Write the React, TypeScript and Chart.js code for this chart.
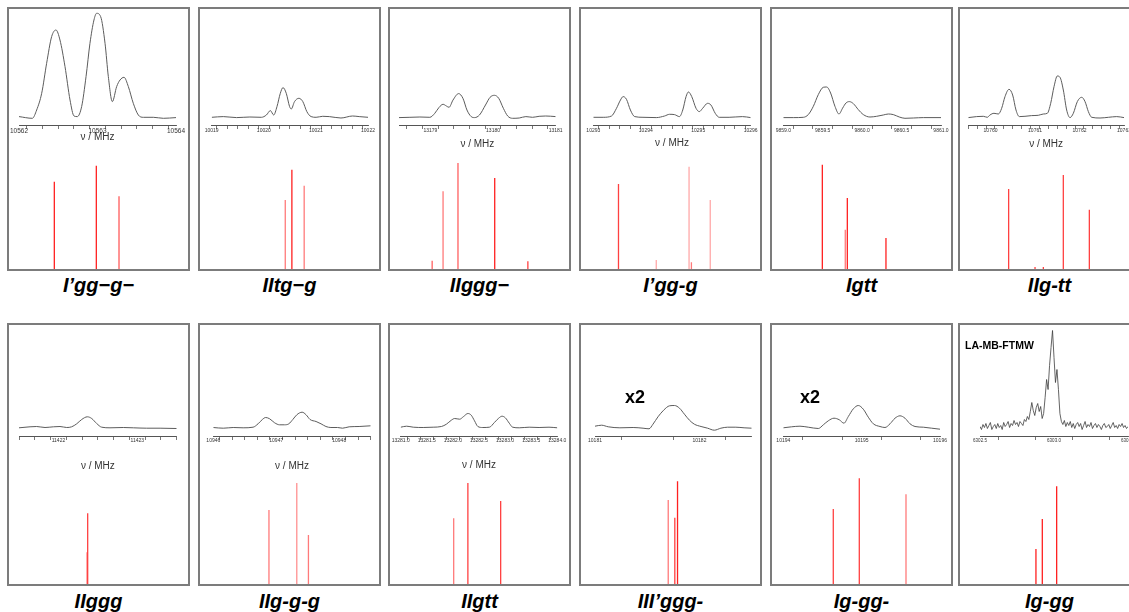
import React, { useEffect, useRef } from "react";
import { Chart, registerables } from "chart.js";

Chart.register(...registerables);

// ---------------- DATA (frequencies in MHz, intensities in arbitrary units) ----------------
const p1Freq = [10562.0, 10562.17, 10562.225, 10562.289, 10562.352, 10562.416, 10562.471, 10562.522, 10562.586, 10562.65, 10562.701, 10562.743, 10562.798, 10562.854, 10562.904, 10562.955, 10562.989, 10563.04, 10563.096, 10563.138, 10563.189, 10563.244, 10563.287, 10563.338, 10563.393, 10563.456, 10563.52, 10563.584, 10563.711, 10563.839, 10564.0];
const p1Int = [0.7, -1, 7.3, 24, 54, 80.7, 87.3, 77.3, 50.7, 17.3, 1.3, 0.7, 10.7, 40.7, 74, 97.3, 104, 100.7, 74, 40.7, 15.7, 30.7, 37.3, 40, 30.7, 14, 2.3, 0, 0, -1, -0.3];
const p1StickFreq = [10562.45, 10562.985, 10563.274];
const p1StickInt = [87.3, 103.3, 72.7];

const p2Freq = [10019.0, 10019.223, 10019.477, 10019.732, 10019.954, 10020.05, 10020.126, 10020.19, 10020.253, 10020.317, 10020.368, 10020.431, 10020.495, 10020.527, 10020.59, 10020.673, 10020.749, 10020.826, 10020.908, 10021.004, 10021.131, 10021.258, 10021.481, 10021.704, 10021.831, 10022.0];
const p2Int = [0, 0.7, -0.3, 0.3, 0, 2.3, 6.7, 2.3, 10.7, 24, 29.7, 24, 10.7, 8.3, 15.7, 19, 15.7, 5.7, 0.7, 0, 1, 0.7, -0.7, 1.3, 0.7, 0];
const p2StickFreq = [10020.412, 10020.539, 10020.775];
const p2StickInt = [69, 99.3, 83.3];

const p3Freq = [13178.5, 13178.674, 13178.833, 13178.992, 13179.071, 13179.14, 13179.203, 13179.256, 13179.298, 13179.362, 13179.451, 13179.52, 13179.584, 13179.652, 13179.705, 13179.784, 13179.88, 13179.953, 13180.022, 13180.091, 13180.165, 13180.234, 13180.313, 13180.419, 13180.524, 13180.63, 13180.736, 13180.841, 13181.0];
const p3Int = [-0.3, 0, 0.3, 0, 4, 10, 13, 11.3, 10, 17.3, 23.7, 19, 7.3, 0.7, -0.3, 2.3, 12.3, 20, 22, 19, 9, 1.3, -1, -0.7, 0.7, 0, 1, 1.3, 0.7];
const p3StickFreq = [13179.029, 13179.203, 13179.441, 13180.027, 13180.556];
const p3StickInt = [8.3, 77.7, 106, 91, 7.7];

const p4Freq = [10293.0, 10293.189, 10293.347, 10293.442, 10293.518, 10293.568, 10293.632, 10293.707, 10293.789, 10293.947, 10294.2, 10294.358, 10294.453, 10294.547, 10294.642, 10294.705, 10294.768, 10294.813, 10294.876, 10294.958, 10295.021, 10295.084, 10295.179, 10295.242, 10295.324, 10295.4, 10295.589, 10295.842, 10296.0];
const p4Int = [0, 0, 1.3, 9, 17.3, 20.7, 18, 7.3, 0.7, 0, -0.3, 1.3, 3, 2.7, 0.7, 7.3, 20.7, 25.3, 20.7, 9, 5.7, 9, 14, 12.3, 4, 0, 0, 0.7, -0.3];
const p4StickFreq = [10293.48, 10294.2, 10294.825, 10294.87, 10295.229];
const p4StickInt = [85, 9, 102.3, 6.7, 69];

const p5Freq = [9859.0, 9859.127, 9859.254, 9859.317, 9859.381, 9859.444, 9859.507, 9859.55, 9859.6, 9859.655, 9859.706, 9859.753, 9859.795, 9859.837, 9859.888, 9859.951, 9860.015, 9860.099, 9860.184, 9860.268, 9860.332, 9860.395, 9860.471, 9860.543, 9860.649, 9860.776, 9861.0];
const p5Int = [-0.3, -0.3, 0, 2.7, 11, 22.7, 30, 30.3, 24.3, 11, 3.3, 9.3, 14.3, 15.7, 13.7, 7.7, 2.7, 0.3, 1, 2.3, 3.3, 2.7, 0.3, -1, -0.7, -0.3, -0.3];
const p5StickFreq = [9859.495, 9859.786, 9859.812, 9860.302];
const p5StickInt = [104.3, 39.3, 71, 31];

const p6Freq = [10759.5, 10759.687, 10759.837, 10759.927, 10759.987, 10760.077, 10760.175, 10760.25, 10760.325, 10760.415, 10760.497, 10760.572, 10760.647, 10760.774, 10760.924, 10761.074, 10761.187, 10761.277, 10761.352, 10761.427, 10761.501, 10761.561, 10761.636, 10761.711, 10761.786, 10761.861, 10761.951, 10762.049, 10762.124, 10762.199, 10762.274, 10762.461, 10762.649, 10762.836, 10763.0];
const p6Int = [-0.3, 0.7, 1, 0, 2.3, 4, 3.3, 9, 20.7, 28, 22.3, 7.3, 0.7, 1, 1.7, 2, 3.3, 4, 14, 30.7, 41.3, 40, 27.3, 7.3, -0.3, 4, 15.7, 20, 15.7, 5.7, 0, -0.7, 0, 0.7, -0.3];
const p6StickFreq = [10760.407, 10761.0, 10761.187, 10761.636, 10762.221];
const p6StickInt = [80, 2, 2, 94, 59.3];

const p7Freq = [11421.5, 11421.64, 11421.724, 11421.83, 11421.936, 11422.02, 11422.105, 11422.168, 11422.232, 11422.295, 11422.367, 11422.422, 11422.485, 11422.549, 11422.654, 11422.823, 11422.95, 11423.119, 11423.289, 11423.5];
const p7Int = [-0.3, 0.7, 1, 0, 0.7, 1, 0, 0.7, 3.7, 8, 10.7, 9, 4, 0.3, -0.3, 0, -0.3, -0.7, -0.7, -1];
const p7StickFreq = [11422.363, 11422.371];
const p7StickInt = [31.7, 70.7];

const p8Freq = [10946.0, 10946.158, 10946.316, 10946.474, 10946.632, 10946.711, 10946.779, 10946.832, 10946.895, 10946.974, 10947.053, 10947.132, 10947.2, 10947.263, 10947.326, 10947.411, 10947.474, 10947.537, 10947.632, 10947.711, 10947.789, 10947.868, 10947.974, 10948.053, 10948.158, 10948.316, 10948.5];
const p8Int = [0, -0.7, 0, -0.3, 0.3, 3.7, 8, 10, 8.7, 4.7, 2.7, 2.7, 3.7, 8, 12.7, 15.3, 12.7, 8, 6, 3.7, 1, 0, 0, -0.7, 0.7, 1, 1.7];
const p8StickFreq = [10946.884, 10947.326, 10947.511];
const p8StickInt = [74, 101, 49];

const p9Freq = [13281.0, 13281.114, 13281.241, 13281.431, 13281.622, 13281.78, 13281.875, 13281.97, 13282.034, 13282.129, 13282.205, 13282.287, 13282.351, 13282.414, 13282.478, 13282.573, 13282.7, 13282.795, 13282.877, 13282.941, 13283.004, 13283.08, 13283.144, 13283.271, 13283.461, 13283.651, 13283.841, 13284.0];
const p9Int = [0.3, 1.3, 0.3, 0, 0.3, 1, 3.3, 7.3, 9, 8.3, 11, 14, 12.3, 6.7, 1, 0, 0.3, 5, 9.3, 11.3, 9.7, 4.3, 0.3, -0.3, 0.3, 0, 0.3, -0.3];
const p9StickFreq = [13282.015, 13282.287, 13282.915];
const p9StickInt = [65.7, 101, 83];

const p10Freq = [10181.0, 10181.063, 10181.127, 10181.238, 10181.365, 10181.46, 10181.517, 10181.555, 10181.603, 10181.657, 10181.714, 10181.761, 10181.809, 10181.856, 10181.904, 10181.951, 10182.015, 10182.078, 10182.142, 10182.205, 10182.269, 10182.348, 10182.427, 10182.5];
const p10Int = [1.3, 2.3, 0.7, -0.3, 0, -0.7, -1.3, 3.3, 10.7, 17.3, 21.7, 22, 19.3, 13.3, 7.3, 3.3, 1, -0.7, -2.7, -0.7, 0.3, 0.3, -0.3, -0.7];
const p10StickFreq = [10181.701, 10181.764, 10181.79];
const p10StickInt = [84, 66.3, 102.7];

const p11Freq = [10194.0, 10194.106, 10194.213, 10194.319, 10194.447, 10194.511, 10194.574, 10194.647, 10194.715, 10194.774, 10194.83, 10194.894, 10194.957, 10195.021, 10195.085, 10195.149, 10195.234, 10195.298, 10195.362, 10195.426, 10195.489, 10195.553, 10195.617, 10195.681, 10195.787, 10195.894, 10196.0];
const p11Int = [-0.3, 0.7, 1.3, 0.3, -1, 2.7, 6.7, 9.3, 7.7, 4.3, 11, 18.7, 22, 18.3, 10.3, 3.7, 1, 0, 3.7, 9.3, 11.7, 9.3, 3.7, 1, 0.3, -0.7, -1.7];
const p11StickFreq = [10194.638, 10194.97, 10195.566];
const p11StickInt = [75, 105.7, 89.7];

// LA-MB-FTMW trace: sampled every 0.01 MHz from 6302.50 MHz
const p12FreqStart = 6302.5;
const p12FreqStep = 0.01;
const p12Int = [
  1, -2, 3, 0, 4, -1, 2, 5, -2, 1, 3, -1, 4, 0, 2, -2, 5, 1, 3, 6, 0, 4, 2, 7, 3, 5, 1, 6, 4, 2, 8,
  6, 11, 8, 16, 25, 17, 12, 20, 24, 16, 21, 9, 14, 30, 48, 38, 62, 80, 97, 70, 45, 58, 38, 14, 6,
  3, 7, 1, 5, 2, 6, 0, 4, -1, 3, 5, 1, 4, -2, 2, 6, 0, 3, 1, 5, -1, 2, 4, 0, 3, 1, -2, 2, 4, 0, 1, 3, -1, 2, 5, 0, 2, -1, 3, 1, 4, 0, 2, -1, 1,
];
const p12Freq = p12Int.map((_, i) => p12FreqStart + i * p12FreqStep);
const p12StickFreq = [6302.878, 6302.921, 6303.018];
const p12StickInt = [35, 65, 97.7];

// ---------------- STYLES ----------------
const RED = "#ff2020";
const RED2 = "#ff4040";
const PALE = "#ff7a7a";
const PINK = "#ffa8a8";

const p1StickColors = [RED, RED, "#ff5a5a"];
const p2StickColors = [PALE, RED, PALE];
const p3StickColors = ["#ff6060", PALE, "#ff6060", RED, RED2];
const p4StickColors = [RED2, PINK, PINK, PALE, PINK];
const p5StickColors = [RED, PALE, RED, RED];
const p6StickColors = [RED2, RED2, RED2, RED2, RED2];
const p7StickColors = [PALE, RED2];
const p8StickColors = [PALE, "#ff9090", PALE];
const p9StickColors = [PALE, RED2, RED2];
const p10StickColors = [PALE, RED2, RED];
const p11StickColors = [RED2, RED2, PALE];
const p12StickColors = [RED, RED, RED];

const FONT = '"Liberation Sans", Arial, Helvetica, sans-serif';
const BOX_W = 183;
const BORDER = 2;

type Row = { top: number; height: number; baseline: number; axisGap: number; captionTop: number };
const ROW1: Row = { top: 7, height: 264, baseline: 108.3, axisGap: 8.7, captionTop: 275 };
const ROW2: Row = { top: 323, height: 263, baseline: 102.5, axisGap: 8.5, captionTop: 591 };

type PanelCfg = {
  row: Row;
  left: number;
  caption: string;
  freq: number[];
  inten: number[];
  sFreq: number[];
  sInt: number[];
  sColors: string[];
  xMin: number;
  xMax: number;
  tickStart: number;
  minor: number;
  major: number;
  dec: number;
  padL: number;
  padR: number;
  labelSize: number;
  tickPad: number;
  title: boolean;
  titlePadTop: number;
  noisy?: boolean;
};

const panels: PanelCfg[] = [
  { row: ROW1, left: 7, caption: "I’gg−g−", freq: p1Freq, inten: p1Int, sFreq: p1StickFreq, sInt: p1StickInt, sColors: p1StickColors, xMin: 10562, xMax: 10564, tickStart: 10562, minor: 0.2, major: 1, dec: 0, padL: 10, padR: 12, labelSize: 6.5, tickPad: -2, title: true, titlePadTop: -1.5 },
  { row: ROW1, left: 198, caption: "IItg−g", freq: p2Freq, inten: p2Int, sFreq: p2StickFreq, sInt: p2StickInt, sColors: p2StickColors, xMin: 10019, xMax: 10022, tickStart: 10019, minor: 0.2, major: 1, dec: 0, padL: 11.7, padR: 11, labelSize: 5, tickPad: -1, title: false, titlePadTop: 0 },
  { row: ROW1, left: 388, caption: "IIggg−", freq: p3Freq, inten: p3Int, sFreq: p3StickFreq, sInt: p3StickInt, sColors: p3StickColors, xMin: 13178.5, xMax: 13181, tickStart: 13178.5, minor: 0.25, major: 1, dec: 0, padL: 9, padR: 13.3, labelSize: 5, tickPad: -1, title: true, titlePadTop: 5.5 },
  { row: ROW1, left: 579, caption: "I’gg-g", freq: p4Freq, inten: p4Int, sFreq: p4StickFreq, sInt: p4StickInt, sColors: p4StickColors, xMin: 10293, xMax: 10296, tickStart: 10293, minor: 0.2, major: 1, dec: 0, padL: 12.3, padR: 9.3, labelSize: 5, tickPad: -1, title: true, titlePadTop: 4.5 },
  { row: ROW1, left: 770, caption: "Igtt", freq: p5Freq, inten: p5Int, sFreq: p5StickFreq, sInt: p5StickInt, sColors: p5StickColors, xMin: 9859, xMax: 9861, tickStart: 9859, minor: 0.25, major: 0.5, dec: 1, padL: 11.3, padR: 10, labelSize: 5, tickPad: -1, title: false, titlePadTop: 0 },
  { row: ROW1, left: 958, caption: "IIg-tt", freq: p6Freq, inten: p6Int, sFreq: p6StickFreq, sInt: p6StickInt, sColors: p6StickColors, xMin: 10759.5, xMax: 10763, tickStart: 10759.6, minor: 0.2, major: 1, dec: 0, padL: 8.3, padR: 15, labelSize: 5, tickPad: -1, title: true, titlePadTop: 5.3 },
  { row: ROW2, left: 7, caption: "IIggg", freq: p7Freq, inten: p7Int, sFreq: p7StickFreq, sInt: p7StickInt, sColors: p7StickColors, xMin: 11421.5, xMax: 11423.5, tickStart: 11421.6, minor: 0.2, major: 1, dec: 0, padL: 10, padR: 11.3, labelSize: 5, tickPad: -1, title: true, titlePadTop: 17 },
  { row: ROW2, left: 198, caption: "IIg-g-g", freq: p8Freq, inten: p8Int, sFreq: p8StickFreq, sInt: p8StickInt, sColors: p8StickColors, xMin: 10946, xMax: 10948.5, tickStart: 10946, minor: 0.2, major: 1, dec: 0, padL: 13.3, padR: 8.3, labelSize: 5, tickPad: -1, title: true, titlePadTop: 17 },
  { row: ROW2, left: 388, caption: "IIgtt", freq: p9Freq, inten: p9Int, sFreq: p9StickFreq, sInt: p9StickInt, sColors: p9StickColors, xMin: 13281, xMax: 13284, tickStart: 13281, minor: 0.25, major: 0.5, dec: 1, padL: 10.7, padR: 11.7, labelSize: 5, tickPad: -1, title: true, titlePadTop: 16.5 },
  { row: ROW2, left: 579, caption: "III’ggg-", freq: p10Freq, inten: p10Int, sFreq: p10StickFreq, sInt: p10StickInt, sColors: p10StickColors, xMin: 10181, xMax: 10182.5, tickStart: 10181, minor: 0.5, major: 1, dec: 0, padL: 14, padR: 8.3, labelSize: 5, tickPad: -1, title: false, titlePadTop: 0 },
  { row: ROW2, left: 770, caption: "Ig-gg-", freq: p11Freq, inten: p11Int, sFreq: p11StickFreq, sInt: p11StickInt, sColors: p11StickColors, xMin: 10194, xMax: 10196, tickStart: 10194, minor: 0.5, major: 1, dec: 0, padL: 11.3, padR: 11, labelSize: 5, tickPad: -1, title: false, titlePadTop: 0 },
  { row: ROW2, left: 958, caption: "Ig-gg", freq: p12Freq, inten: p12Int, sFreq: p12StickFreq, sInt: p12StickInt, sColors: p12StickColors, xMin: 6302.5, xMax: 6303.5, tickStart: 6302.5, minor: 0.25, major: 0.5, dec: 1, padL: 20, padR: 11, labelSize: 4.5, tickPad: -1, title: false, titlePadTop: 0, noisy: true },
];

function SpectrumPanel({ cfg }: { cfg: PanelCfg }) {
  const ref = useRef<HTMLCanvasElement | null>(null);
  const w = BOX_W - 2 * BORDER;
  const h = cfg.row.height - 2 * BORDER;

  useEffect(() => {
    if (!ref.current) return;
    const tickVals: number[] = [];
    for (let v = cfg.tickStart; v <= cfg.xMax + 1e-6; v += cfg.minor) tickVals.push(Math.round(v * 1000) / 1000);
    const chart = new Chart(ref.current, {
      type: "line",
      data: {
        datasets: [
          {
            type: "line",
            data: cfg.freq.map((x, i) => ({ x, y: cfg.inten[i] })),
            borderColor: cfg.noisy ? "#3c3c3c" : "#5c5c5c",
            borderWidth: cfg.noisy ? 0.8 : 1,
            pointRadius: 0,
            fill: false,
            tension: 0,
            cubicInterpolationMode: cfg.noisy ? "default" : "monotone",
            yAxisID: "y",
            xAxisID: "x",
          } as any,
          {
            type: "bar",
            data: cfg.sFreq.map((x, i) => ({ x, y: cfg.sInt[i] })),
            backgroundColor: cfg.sColors,
            borderWidth: 0,
            inflateAmount: 0,
            barThickness: 1.3,
            yAxisID: "y2",
            xAxisID: "x",
          } as any,
        ],
      },
      options: {
        animation: false,
        responsive: false,
        devicePixelRatio: 1,
        events: [],
        layout: { padding: { left: cfg.padL, right: cfg.padR, top: 0, bottom: 0 } },
        plugins: { legend: { display: false }, tooltip: { enabled: false } },
        scales: {
          x: {
            type: "linear",
            min: cfg.xMin,
            max: cfg.xMax,
            offset: false,
            position: { y: -cfg.row.axisGap } as any,
            afterBuildTicks: (scale: any) => {
              scale.ticks = tickVals.map((v) => ({ value: v }));
            },
            grid: { drawOnChartArea: false, drawTicks: true, tickLength: 3, color: "#555", lineWidth: 0.8 },
            border: { display: true, color: "#555", width: 1 },
            ticks: {
              autoSkip: false,
              maxRotation: 0,
              minRotation: 0,
              padding: cfg.tickPad,
              color: "#333",
              font: { size: cfg.labelSize, family: FONT },
              callback: (value: any) => {
                const v = Number(value);
                const r = Math.round(v / cfg.major) * cfg.major;
                return Math.abs(v - r) < 1e-6 ? v.toFixed(cfg.dec) : "";
              },
            },
            title: {
              display: cfg.title,
              text: "ν / MHz",
              color: "#333",
              font: { size: 10, family: FONT },
              padding: { top: cfg.titlePadTop, bottom: 0 },
            },
          } as any,
          y: { type: "linear", display: false, min: cfg.row.baseline - h, max: cfg.row.baseline },
          y2: { type: "linear", display: false, min: 0, max: h },
        },
      },
    });
    return () => chart.destroy();
  }, [cfg]);

  return (
    <div
      style={{
        position: "absolute",
        left: cfg.left,
        top: cfg.row.top,
        width: BOX_W,
        height: cfg.row.height,
        boxSizing: "border-box",
        border: `${BORDER}px solid #7c7c7c`,
        background: "#fff",
      }}
    >
      <canvas ref={ref} width={w} height={h} style={{ position: "absolute", left: 0, top: 0, width: w, height: h }} />
    </div>
  );
}

export default function App() {
  return (
    <div style={{ position: "fixed", left: 0, top: 0, width: 1129, height: 612, overflow: "hidden", background: "#fff" }}>
      {panels.map((p, i) => (
        <React.Fragment key={i}>
          <SpectrumPanel cfg={p} />
          <div
            style={{
              position: "absolute",
              left: p.left,
              width: BOX_W,
              top: p.row.captionTop,
              textAlign: "center",
              font: `italic bold 20px ${FONT}`,
              lineHeight: "20px",
              color: "#000",
              whiteSpace: "nowrap",
            }}
          >
            {p.caption}
          </div>
        </React.Fragment>
      ))}
      <div style={{ position: "absolute", left: 625, top: 388, font: `bold 18px ${FONT}`, lineHeight: "18px", color: "#000" }}>x2</div>
      <div style={{ position: "absolute", left: 800, top: 388, font: `bold 18px ${FONT}`, lineHeight: "18px", color: "#000" }}>x2</div>
      <div style={{ position: "absolute", left: 965, top: 340, font: `bold 10.5px ${FONT}`, lineHeight: "11px", color: "#000" }}>LA-MB-FTMW</div>
    </div>
  );
}
